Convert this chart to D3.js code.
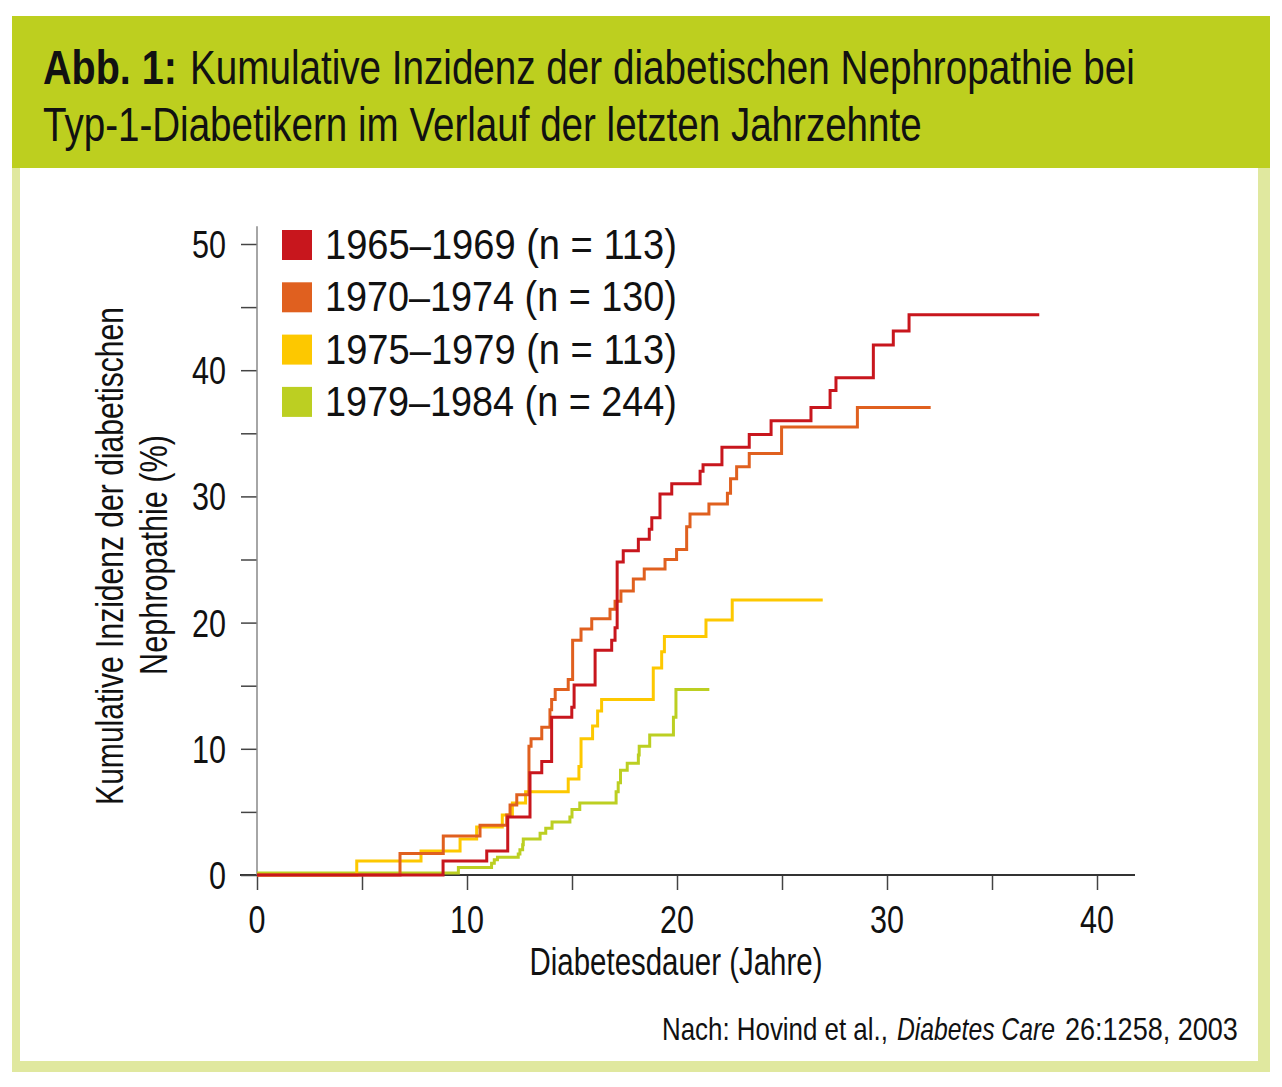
<!DOCTYPE html>
<html><head><meta charset="utf-8">
<script src="https://cdn.jsdelivr.net/npm/d3@7"></script>
<style>body{margin:0;background:#fff}svg{display:block}</style>
</head><body>
<svg id="chart" width="1282" height="1087"></svg>
<script>
// ---- data ----
const seriesLabels = ["1965–1969 (n = 113)", "1970–1974 (n = 130)", "1975–1979 (n = 113)", "1979–1984 (n = 244)"];
const seriesColors = ["#c8161d", "#e0601f", "#fdc800", "#bccf22"];

const t1965 = [0, 8.86, 10.94, 11.94, 13.0, 13.56, 14.03, 14.99, 15.1, 16.1, 16.89, 17.05, 17.15, 17.44, 18.16, 18.68, 18.8, 19.19, 19.75, 21.1, 21.24, 22.14, 23.44, 24.48, 26.38, 27.29, 27.57, 29.35, 30.3, 31.05, 37.25];
const v1965 = [0, 1.1, 1.9, 4.6, 8.1, 9.0, 12.5, 13.3, 15.05, 17.8, 18.6, 19.6, 24.8, 25.7, 26.6, 27.4, 28.3, 30.2, 31.0, 32.0, 32.5, 33.9, 34.9, 36.0, 37.05, 38.4, 39.4, 42.0, 43.1, 44.4, 44.4];

const t1970 = [0, 6.81, 8.87, 10.62, 11.89, 12.05, 12.37, 12.95, 13.05, 13.56, 13.95, 14.03, 14.2, 14.82, 15.03, 15.43, 15.94, 16.81, 17.05, 17.33, 17.92, 18.44, 19.43, 19.98, 20.46, 20.62, 21.52, 22.4, 22.55, 22.84, 23.44, 24.98, 28.59, 32.08];
const v1970 = [0, 1.7, 3.1, 3.95, 4.75, 5.55, 6.35, 10.2, 10.8, 11.7, 13.1, 13.9, 14.7, 15.5, 18.6, 19.5, 20.3, 21.05, 21.7, 22.5, 23.45, 24.25, 25.0, 25.8, 27.6, 28.6, 29.4, 30.25, 31.4, 32.35, 33.4, 35.5, 37.05, 37.05];

const t1975 = [0, 4.75, 7.81, 9.67, 10.46, 11.68, 12.16, 12.79, 14.82, 15.33, 15.43, 15.98, 16.22, 16.41, 18.87, 19.27, 19.4, 21.38, 22.63, 26.94];
const v1975 = [0, 1.1, 1.9, 2.85, 3.8, 4.75, 5.7, 6.6, 7.6, 8.6, 10.8, 11.8, 13.0, 13.9, 16.4, 17.7, 18.9, 20.2, 21.8, 21.8];

const t1979 = [0, 9.59, 11.17, 11.3, 11.45, 12.44, 12.52, 12.65, 12.68, 13.48, 13.75, 14.05, 14.9, 15.0, 15.37, 17.1, 17.2, 17.31, 17.63, 18.16, 18.2, 18.7, 19.83, 19.95, 21.54];
const v1979 = [0.15, 0.6, 0.93, 1.2, 1.4, 1.66, 2.0, 2.4, 2.85, 3.3, 3.7, 4.2, 4.6, 5.2, 5.7, 6.6, 7.3, 8.3, 8.85, 9.5, 10.2, 11.1, 12.5, 14.7, 14.7];

const seriesTimes = [t1965, t1970, t1975, t1979];
const seriesValues = [v1965, v1970, v1975, v1979];

const xTicksMajor = [0, 10, 20, 30, 40];
const xTicksAll = [0, 5, 10, 15, 20, 25, 30, 35, 40];
const yTicksMajor = [0, 10, 20, 30, 40, 50];
const yTicksAll = [0, 5, 10, 15, 20, 25, 30, 35, 40, 45, 50];

const titleBold = "Abb. 1:";
const titleLine1 = "Kumulative Inzidenz der diabetischen Nephropathie bei";
const titleLine2 = "Typ-1-Diabetikern im Verlauf der letzten Jahrzehnte";
const yTitle1 = "Kumulative Inzidenz der diabetischen";
const yTitle2 = "Nephropathie (%)";
const xTitle = "Diabetesdauer (Jahre)";
const sourceParts = ["Nach: Hovind et al.,", "Diabetes Care", "26:1258, 2003"];

// ---- drawing ----
const FONT = "'Liberation Sans','Arial',sans-serif";
const svg = d3.select("#chart");

// place a text at (x,y) and squeeze it horizontally to a target width
function fitText(parent, str, x, y, size, width, opts = {}) {
  const t = parent.append("text").attr("x", 0).attr("y", 0)
    .attr("font-family", FONT).attr("font-size", size).attr("fill", "#111")
    .attr("text-anchor", opts.anchor || "start")
    .attr("font-weight", opts.weight || "normal")
    .attr("font-style", opts.style || "normal")
    .attr("dy", opts.dy || null)
    .text(str);
  const w = t.node().getComputedTextLength() || width;
  const s = width / w;
  const rot = opts.rotate ? ` rotate(${opts.rotate})` : "";
  t.attr("transform", `translate(${x},${y})${rot} scale(${s},1)`);
  return t;
}

// frame
svg.append("rect").attr("x", 12).attr("y", 16).attr("width", 1258).attr("height", 1056).attr("fill", "#e0e89f");
svg.append("rect").attr("x", 20).attr("y", 168).attr("width", 1238).attr("height", 893).attr("fill", "#ffffff");
svg.append("rect").attr("x", 12).attr("y", 16).attr("width", 1258).attr("height", 152).attr("fill", "#bdcf1f");

// title
fitText(svg, titleBold, 43, 84, 49, 134, { weight: "bold" });
fitText(svg, titleLine1, 190, 84, 49, 945);
fitText(svg, titleLine2, 43, 141, 49, 879);

// scales
const x = d3.scaleLinear().domain([0, 40]).range([257, 1097]);
const y = d3.scaleLinear().domain([0, 50]).range([875, 244]);

// x axis
const xAxis = svg.append("g").attr("transform", `translate(0,${y(0)})`)
  .call(d3.axisBottom(x).tickValues(xTicksAll).tickSize(15).tickFormat(""));
xAxis.select(".domain").remove();
xAxis.selectAll(".tick line").attr("stroke", "#444").attr("stroke-width", 1.5);
svg.append("line").attr("x1", 240).attr("x2", 1135).attr("y1", y(0)).attr("y2", y(0))
  .attr("stroke", "#333").attr("stroke-width", 2);
const xLab = svg.append("g");
xTicksMajor.forEach(d => fitText(xLab, String(d), x(d), 933, 39, String(d).length * 17, { anchor: "middle" }));

// y axis
const yAxis = svg.append("g").attr("transform", `translate(${x(0)},0)`)
  .call(d3.axisLeft(y).tickValues(yTicksAll).tickSize(16).tickFormat(""));
yAxis.select(".domain").remove();
yAxis.selectAll(".tick line").attr("stroke", "#444").attr("stroke-width", 1.5);
svg.append("line").attr("x1", x(0)).attr("x2", x(0)).attr("y1", y(51.4)).attr("y2", y(0))
  .attr("stroke", "#888").attr("stroke-width", 1.5);
const yLab = svg.append("g");
yTicksMajor.forEach(d => fitText(yLab, String(d), 226, y(d), 39, String(d).length * 17, { anchor: "end", dy: "0.36em" }));

// axis titles
fitText(svg, xTitle, 676, 975, 38, 293, { anchor: "middle" });
fitText(svg, yTitle1, 123, 556, 38, 498, { anchor: "middle", rotate: -90 });
fitText(svg, yTitle2, 167, 555, 38, 240, { anchor: "middle", rotate: -90 });

// step curves
const line = d3.line().x(d => x(d[0])).y(d => y(d[1])).curve(d3.curveStepAfter);
const order = [3, 2, 1, 0];
order.forEach(i => {
  const pts = d3.zip(seriesTimes[i], seriesValues[i]);
  svg.append("path").attr("d", line(pts)).attr("fill", "none")
    .attr("stroke", seriesColors[i]).attr("stroke-width", 3);
});

// legend
seriesLabels.forEach((lab, i) => {
  const yy = 230 + i * 52.3;
  svg.append("rect").attr("x", 282).attr("y", yy).attr("width", 30).attr("height", 30).attr("fill", seriesColors[i]);
  fitText(svg, lab, 325, yy + 29, 42, 352);
});

// source
fitText(svg, sourceParts[0], 662, 1040, 31, 226);
fitText(svg, sourceParts[1], 897, 1040, 31, 158, { style: "italic" });
fitText(svg, sourceParts[2], 1065, 1040, 31, 173);
</script>
</body></html>
